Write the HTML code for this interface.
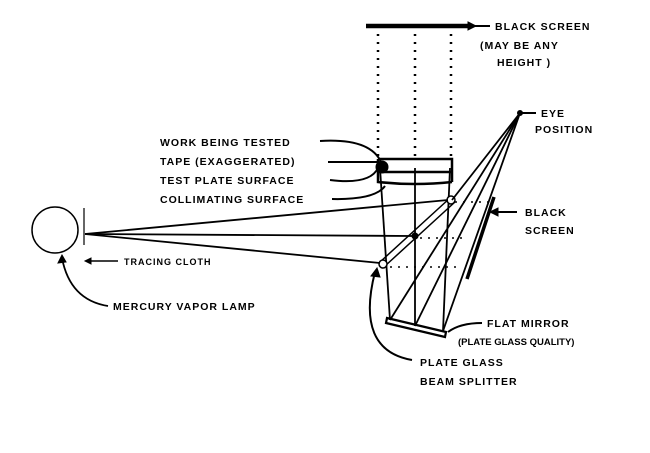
<!DOCTYPE html>
<html><head><meta charset="utf-8"><style>
html,body{margin:0;padding:0;background:#fff}
svg text{font-family:"Liberation Sans",sans-serif;font-weight:bold;font-size:10.5px;fill:#000;letter-spacing:1px}
</style></head><body>
<svg width="650" height="448" viewBox="0 0 650 448" xmlns="http://www.w3.org/2000/svg" fill="none" stroke="#000">
<line x1="366" y1="26" x2="472" y2="26" stroke-width="4.5"/>
<line x1="472" y1="26" x2="490" y2="26" stroke-width="2"/>
<path d="M468 22 L476 26 L468 30Z" fill="#000"/>
<text x="495" y="30" stroke="none">BLACK SCREEN</text>
<text x="480" y="49" stroke="none">(MAY BE ANY</text>
<text x="497" y="66" stroke="none">HEIGHT )</text>
<g stroke-width="2.5" stroke-dasharray="2 6">
<line x1="378" y1="34" x2="378" y2="156"/>
<line x1="415" y1="34" x2="415" y2="156"/>
<line x1="451" y1="34" x2="451" y2="156"/>
</g>
<path d="M378 159 H452 V182 M378 172 H452 M378 159 V182 Q415 186 452 182" stroke-width="2.5"/>
<circle cx="382" cy="167" r="6" fill="#000"/>
<g stroke-width="1.8">
<line x1="380" y1="168" x2="390" y2="320"/>
<line x1="415" y1="168" x2="415" y2="326"/>
<line x1="450" y1="168" x2="443" y2="331"/>
</g>
<path d="M380 262 L450 198 M385 266 L455 202" stroke-width="1.5"/>
<circle cx="383" cy="264" r="4" fill="#fff" stroke-width="1.5"/>
<circle cx="451" cy="200" r="4" fill="#fff" stroke-width="1.5"/>
<circle cx="415" cy="236" r="3" fill="#000"/>
<path d="M387 318 L446 332 L445 337 L386 323Z" stroke-width="2.2"/>
<g stroke-width="1.8">
<line x1="520" y1="113" x2="390" y2="320"/>
<line x1="520" y1="113" x2="415" y2="326"/>
<line x1="520" y1="113" x2="443" y2="331"/>
<line x1="520" y1="113" x2="452" y2="200"/>
</g>
<line x1="520" y1="113" x2="536" y2="113" stroke-width="2"/>
<circle cx="520" cy="113" r="2.5" fill="#000"/>
<text x="541" y="117" stroke="none">EYE</text>
<text x="535" y="133" stroke="none">POSITION</text>
<g stroke-width="1.5" stroke-dasharray="2 6">
<line x1="420" y1="238" x2="462" y2="238"/>
<line x1="390" y1="267" x2="462" y2="267"/>
<line x1="455" y1="202" x2="490" y2="202"/>
</g>
<line x1="494" y1="197" x2="467" y2="279" stroke-width="3.5"/>
<line x1="493" y1="212" x2="517" y2="212" stroke-width="2"/>
<path d="M490 212 L498 208 L498 216Z" fill="#000"/>
<text x="525" y="216" stroke="none">BLACK</text>
<text x="525" y="234" stroke="none">SCREEN</text>
<circle cx="55" cy="230" r="23" stroke-width="1.5"/>
<line x1="84" y1="208" x2="84" y2="245" stroke-width="1.2"/>
<g stroke-width="1.8">
<line x1="85" y1="234" x2="448" y2="200"/>
<line x1="85" y1="234" x2="412" y2="236"/>
<line x1="85" y1="234" x2="380" y2="263"/>
</g>
<line x1="88" y1="261" x2="118" y2="261" stroke-width="1.5"/>
<path d="M85 261 L91 258 L91 264Z" fill="#000"/>
<text x="124" y="265" stroke="none" style="font-size:9px">TRACING CLOTH</text>
<path d="M108 306 Q70 300 62 258" stroke-width="1.8"/>
<path d="M62 255 L58 263 L66 262Z" fill="#000"/>
<text x="113" y="310" stroke="none">MERCURY VAPOR LAMP</text>
<text x="160" y="146" stroke="none">WORK BEING TESTED</text>
<text x="160" y="165" stroke="none">TAPE (EXAGGERATED)</text>
<text x="160" y="184" stroke="none">TEST PLATE SURFACE</text>
<text x="160" y="203" stroke="none">COLLIMATING SURFACE</text>
<g stroke-width="2">
<path d="M320 141 Q370 138 381 162"/>
<line x1="328" y1="162" x2="378" y2="162"/>
<path d="M330 180 Q370 185 378 168"/>
<path d="M332 199 Q375 200 385 186"/>
</g>
<path d="M482 323 Q460 323 448 332" stroke-width="2"/>
<text x="487" y="327" stroke="none">FLAT MIRROR</text>
<text x="458" y="345" stroke="none" style="font-size:9.5px;letter-spacing:0">(PLATE GLASS QUALITY)</text>
<path d="M412 360 Q355 350 375 272" stroke-width="2"/>
<path d="M377 268 L371 276 L380 277Z" fill="#000"/>
<text x="420" y="366" stroke="none">PLATE GLASS</text>
<text x="420" y="385" stroke="none">BEAM SPLITTER</text>
</svg>
</body></html>
